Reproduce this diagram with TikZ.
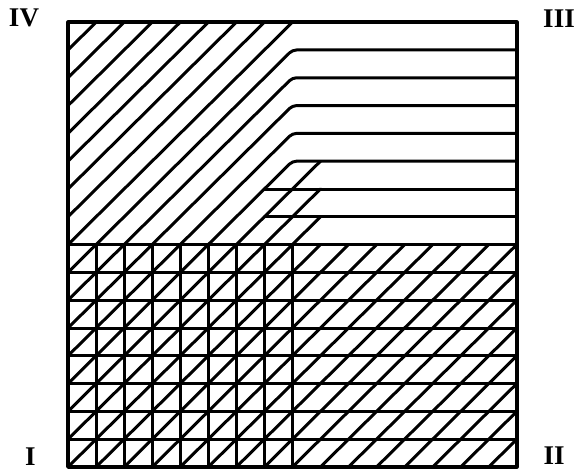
\documentclass[tikz,border=0pt]{standalone}
\usepackage{fontspec}
\setmainfont{Liberation Serif}
\begin{document}
\begin{tikzpicture}[line cap=round, line join=round,
  hatch/.style={line width=3pt},
  frame/.style={line width=3.4pt},
  lab/.style={font=\fontsize{27}{27}\selectfont\bfseries, inner sep=0pt}]
\useasboundingbox (0pt,0pt) rectangle (577pt,-473pt);
\begin{scope}[shift={(68pt,-467pt)}, x=28.05pt, y=27.8pt]
  % vertical lines of field I
  \foreach \i in {1,...,8} \draw[hatch] (\i,0) -- (\i,8);
  % horizontal lines of the lower half
  \foreach \j in {1,...,8} \draw[hatch] (0,\j) -- (16,\j);
  % two short horizontals in the upper half
  \draw[hatch] (7,9) -- (16,9);
  \draw[hatch] (7,10) -- (16,10);
  % diagonals of field IV reaching the top edge
  \foreach \k in {8,...,15} \draw[hatch] (0,\k) -- ({16-\k},16);
  % diagonals bending into horizontals of field III
  \foreach \k in {3,...,7} \draw[hatch, rounded corners=4pt] (0,\k) -- (8,{8+\k}) -- (16,{8+\k});
  % short diagonals ending at x = 9
  \foreach \k in {0,1,2} \draw[hatch] (0,\k) -- (9,{9+\k});
  % diagonals of the lower right field
  \foreach \c in {1,...,8} \draw[hatch] (\c,0) -- ({8+\c},8);
  \foreach \c in {9,...,15} \draw[hatch] (\c,0) -- (16,{16-\c});
  % frame
  \draw[frame] (0,0) rectangle (16,16);
\end{scope}
\node[lab] (IV) at (24pt,-17.5pt) {IV};
\node[lab] (III) at (559pt,-18.5pt) {III};
\node[lab] (I) at (30.5pt,-456.5pt) {I};
\node[lab] (II) at (554pt,-456pt) {II};
\end{tikzpicture}
\end{document}
